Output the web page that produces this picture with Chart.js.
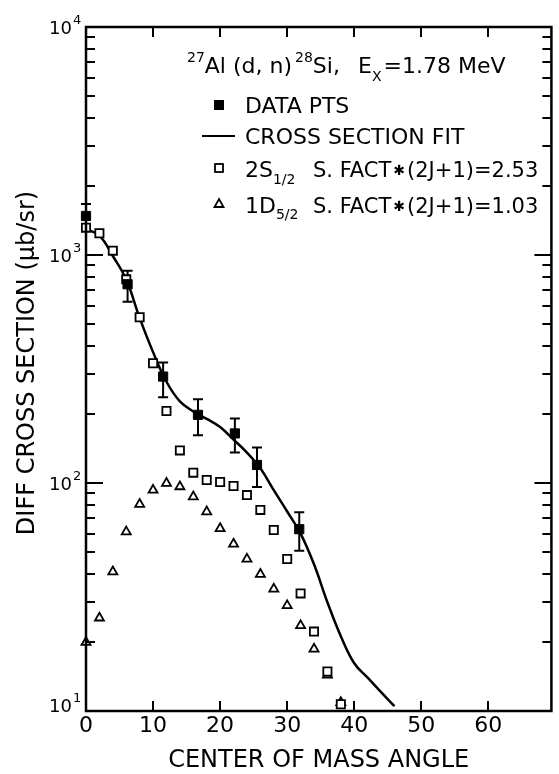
<!DOCTYPE html>
<html>
<head>
<meta charset="utf-8">
<script src="https://cdn.jsdelivr.net/npm/chart.js@4.4.0/dist/chart.umd.min.js"></script>
<style>
    html, body { margin: 0; padding: 0; background: #fff; }
    #wrap { width: 559px; height: 774px; }
</style>
</head>
<body>
<div id="wrap"><canvas id="xsecChart" width="559" height="774"></canvas></div>
<script>
// measured points with error bars
const dataAngle = [0, 6.2, 11.5, 16.7, 22.2, 25.5, 31.8];
const dataXsec = [1483, 744, 293, 199, 165, 120, 62.7];
const dataErrHi = [1674, 853, 338, 233, 192, 143, 74.4];
const dataErrLo = [1300, 624, 238, 162, 136, 96, 50.5];

// DWBA curves, 2 degree steps
const calcAngle = [0, 2, 4, 6, 8, 10, 12, 14, 16, 18, 20, 22, 24, 26, 28, 30, 32, 34, 36, 38];
const s12Xsec = [1318, 1245, 1045, 782, 533, 335, 207, 139, 111, 103, 101, 97, 88.5, 76.2, 62.2, 46.4, 32.8, 22.3, 14.9, 10.7];
const d52Xsec = [20.0, 25.6, 40.8, 61.1, 80.7, 93.1, 99.8, 96.4, 87.1, 74.8, 63.2, 54.0, 46.4, 39.8, 34.3, 29.0, 23.7, 18.7, 14.4, 10.9];

// cross section fit
const fitAngle = [0, 2, 4, 6, 8, 10, 12, 14, 16, 18, 20, 22, 24, 26, 28, 30, 32, 34, 36, 38, 40, 42, 44, 46];
const fitXsec = [1300, 1215, 990, 780, 530, 375, 278, 228, 206, 191, 176, 155, 136, 116, 93, 75, 60, 44, 30, 21.3, 16.2, 14.0, 12.1, 10.5];

const xTicks = [0, 10, 20, 30, 40, 50, 60];
const yDecades = [1, 2, 3, 4];

const FONT = "'DejaVu Sans', sans-serif";

function toPoints(xs, ys) {
    return xs.map((x, i) => ({ x: x, y: ys[i] }));
}

// draws a run of text pieces, each with its own size and baseline shift
function drawRun(ctx, parts, x, y) {
    parts.forEach((p) => {
        ctx.font = `${p.size}px ${FONT}`;
        if (p.at !== undefined) x = p.at;
        ctx.fillText(p.t, x, y + (p.dy || 0));
        x += ctx.measureText(p.t).width + (p.gap || 0);
    });
}

const frame = {
    id: "frame",
    beforeDatasetsDraw(chart) {
        const ctx = chart.ctx;
        const xs = chart.scales.x;
        const ys = chart.scales.y;
        ctx.save();
        ctx.strokeStyle = "#000";
        ctx.lineWidth = 2;
        dataAngle.forEach((a, i) => {
            const px = xs.getPixelForValue(a);
            const top = ys.getPixelForValue(dataErrHi[i]);
            const bot = ys.getPixelForValue(dataErrLo[i]);
            ctx.beginPath();
            ctx.moveTo(px, top);
            ctx.lineTo(px, bot);
            ctx.moveTo(px - 5, top);
            ctx.lineTo(px + 5, top);
            ctx.moveTo(px - 5, bot);
            ctx.lineTo(px + 5, bot);
            ctx.stroke();
        });
        ctx.restore();
    },
    afterDraw(chart) {
        const ctx = chart.ctx;
        const area = chart.chartArea;
        const xs = chart.scales.x;
        const ys = chart.scales.y;
        ctx.save();
        ctx.strokeStyle = "#000";
        ctx.fillStyle = "#000";
        ctx.lineWidth = 2.5;
        ctx.strokeRect(area.left, area.top, area.right - area.left, area.bottom - area.top);

        // log ticks on left and right axes, pointing inwards
        ctx.lineWidth = 2;
        ctx.beginPath();
        for (let d = 1; d <= 3; d++) {
            for (let m = 1; m <= 9; m++) {
                if (d === 1 && m === 1) continue;
                const py = Math.round(ys.getPixelForValue(m * Math.pow(10, d)));
                const len = m === 1 ? 17 : 9;
                ctx.moveTo(area.left, py);
                ctx.lineTo(area.left + len, py);
                ctx.moveTo(area.right, py);
                ctx.lineTo(area.right - len, py);
            }
        }
        // x ticks top and bottom
        xTicks.forEach((v) => {
            if (v === 0) return;
            const px = Math.round(xs.getPixelForValue(v));
            ctx.moveTo(px, area.bottom);
            ctx.lineTo(px, area.bottom - 10);
            ctx.moveTo(px, area.top);
            ctx.lineTo(px, area.top + 10);
        });
        ctx.stroke();

        // x tick labels
        ctx.textAlign = "center";
        ctx.textBaseline = "alphabetic";
        ctx.font = `22px ${FONT}`;
        xTicks.forEach((v) => {
            ctx.fillText(String(v), xs.getPixelForValue(v), area.bottom + 21);
        });

        // y tick labels 10^n
        yDecades.forEach((d) => {
            const py = ys.getPixelForValue(Math.pow(10, d));
            const base = d === 1 ? py + 1 : py + 7;
            ctx.textAlign = "right";
            ctx.font = `18px ${FONT}`;
            ctx.fillText("10", 72, base);
            ctx.textAlign = "left";
            ctx.font = `13px ${FONT}`;
            ctx.fillText(String(d), 73, base - 10);
        });

        // axis titles
        ctx.textAlign = "center";
        ctx.font = `24px ${FONT}`;
        ctx.fillText("CENTER OF MASS ANGLE", (area.left + area.right) / 2, 767);
        ctx.save();
        ctx.translate(34, 363);
        ctx.rotate(-Math.PI / 2);
        ctx.fillText("DIFF CROSS SECTION (\u03bcb/sr)", 0, 0);
        ctx.restore();

        // reaction label
        ctx.textAlign = "left";
        drawRun(ctx, [
            { t: "27", size: 14, dy: -11 },
            { t: "Al (d, n)", size: 22, gap: 3 },
            { t: "28", size: 14, dy: -11 },
            { t: "Si,", size: 22 },
            { t: "E", size: 22, at: 358 },
            { t: "X", size: 14, dy: 8, gap: 2 },
            { t: "=1.78 MeV", size: 22 },
        ], 187, 73);

        // legend
        ctx.fillRect(214, 100, 10, 10);
        ctx.beginPath();
        ctx.moveTo(202, 136);
        ctx.lineTo(235, 136);
        ctx.stroke();
        ctx.lineWidth = 1.8;
        ctx.strokeRect(215, 164, 8, 8);
        ctx.beginPath();
        ctx.moveTo(219, 199);
        ctx.lineTo(223.5, 207);
        ctx.lineTo(214.5, 207);
        ctx.closePath();
        ctx.stroke();

        drawRun(ctx, [{ t: "DATA PTS", size: 22 }], 245, 113);
        drawRun(ctx, [{ t: "CROSS SECTION FIT", size: 22 }], 245, 144);
        drawRun(ctx, [
            { t: "2S", size: 22 },
            { t: "1/2", size: 14, dy: 7 },
            { t: "S. FACT", size: 21, at: 313, gap: 2 },
            { t: "\u2731", size: 14, dy: -2, gap: 2 },
            { t: "(2J+1)=2.53", size: 21 },
        ], 245, 177);
        drawRun(ctx, [
            { t: "1D", size: 22 },
            { t: "5/2", size: 14, dy: 6 },
            { t: "S. FACT", size: 21, at: 313, gap: 2 },
            { t: "\u2731", size: 14, dy: -2, gap: 2 },
            { t: "(2J+1)=1.03", size: 21 },
        ], 245, 213);
        ctx.restore();
    },
};

const ctx = document.getElementById("xsecChart").getContext("2d");
new Chart(ctx, {
    type: "scatter",
    data: {
        datasets: [
            {
                label: "DATA PTS",
                data: toPoints(dataAngle, dataXsec),
                pointStyle: "rect",
                pointRadius: 6.5,
                backgroundColor: "#000",
                borderColor: "#000",
                borderWidth: 1,
                clip: false,
            },
            {
                label: "2S1/2",
                data: toPoints(calcAngle, s12Xsec),
                pointStyle: "rect",
                pointRadius: 5.8,
                backgroundColor: "#fff",
                borderColor: "#000",
                borderWidth: 1.8,
                clip: false,
            },
            {
                label: "1D5/2",
                data: toPoints(calcAngle, d52Xsec),
                pointStyle: "triangle",
                pointRadius: 5.2,
                backgroundColor: "#fff",
                borderColor: "#000",
                borderWidth: 1.8,
                clip: false,
            },
            {
                label: "CROSS SECTION FIT",
                type: "line",
                data: toPoints(fitAngle, fitXsec),
                borderColor: "#000",
                borderWidth: 2.5,
                pointRadius: 0,
                tension: 0.4,
                fill: false,
                clip: false,
            },
        ],
    },
    options: {
        responsive: false,
        animation: false,
        layout: { padding: { left: 86, top: 27, right: 2, bottom: 63 } },
        scales: {
            x: { type: "linear", min: 0, max: 69.4, display: false },
            y: { type: "logarithmic", min: 10, max: 10000, display: false },
        },
        plugins: {
            legend: { display: false },
            tooltip: { enabled: false },
        },
    },
    plugins: [frame],
});
</script>
</body>
</html>
